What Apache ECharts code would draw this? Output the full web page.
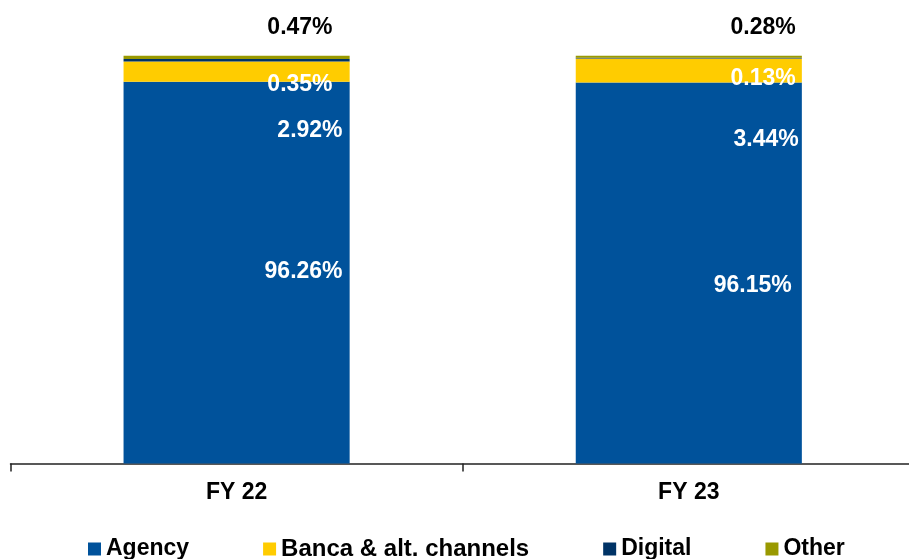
<!DOCTYPE html>
<html>
<head>
<meta charset="utf-8">
<script src="https://cdn.jsdelivr.net/npm/echarts@6/dist/echarts.min.js"></script>
<style>
html,body{margin:0;padding:0;background:#fff;}
#chart{width:909px;height:559px;}
</style>
</head>
<body>
<div id="chart"></div>
<script>
const categories = ['FY 22', 'FY 23'];
const seriesNames = ['Agency', 'Banca & alt. channels', 'Digital', 'Other'];
const agency = [96.26, 96.15];
const banca = [2.92, 3.44];
const digital = [0.35, 0.13];
const other = [0.47, 0.28];

// label anchor (right-middle) relative to each segment's top-left corner
const labelPos = [
  [[219, 190], [216, 203]],
  [[219, 69], [223, 81]],
  [[209, 26], [220, 21]],
  [[209, -28], [220, -28]]
];
const colors = ['#00529B', '#FFCC00', '#003366', '#999900'];
const labelColors = ['#ffffff', '#ffffff', '#ffffff', '#000000'];
const FONT = '"Liberation Sans", Arial, sans-serif';

const values = [agency, banca, digital, other];
const series = values.map((arr, s) => ({
  name: seriesNames[s],
  type: 'bar',
  stack: 'total',
  barWidth: '50%',
  itemStyle: { color: colors[s] },
  emphasis: { disabled: true },
  data: arr.map((v, i) => ({
    value: v,
    label: {
      show: true,
      position: labelPos[s][i],
      align: 'right',
      verticalAlign: 'middle',
      formatter: v.toFixed(2) + '%',
      color: labelColors[s],
      fontFamily: FONT,
      fontWeight: 'bold',
      fontSize: 23
    }
  }))
}));

const chart = echarts.init(document.getElementById('chart'));
chart.setOption({
  animation: false,
  grid: { left: 10.5, width: 904.4, top: 55.7, bottom: 95.5, containLabel: false, outerBoundsMode: 'none' },
  legend: {
    data: seriesNames.map((n, i) => i === 1 ? { name: n, textStyle: { fontSize: 24 } } : n),
    left: 88,
    top: 535,
    padding: 0,
    icon: 'rect',
    itemWidth: 13,
    itemHeight: 13,
    itemGap: 74,
    textStyle: { fontFamily: FONT, fontWeight: 'bold', fontSize: 23, color: '#000', lineHeight: 28 }
  },
  xAxis: {
    type: 'category',
    data: categories,
    axisLine: { lineStyle: { color: '#222', width: 1.5 } },
    axisTick: { show: true, length: 8, lineStyle: { color: '#222', width: 1.5 } },
    axisLabel: { margin: 18, fontFamily: FONT, fontWeight: 'bold', fontSize: 23, color: '#000' }
  },
  yAxis: { type: 'value', min: 41.4, max: 100, show: false, splitLine: { show: false } },
  series: series
});
</script>
</body>
</html>
